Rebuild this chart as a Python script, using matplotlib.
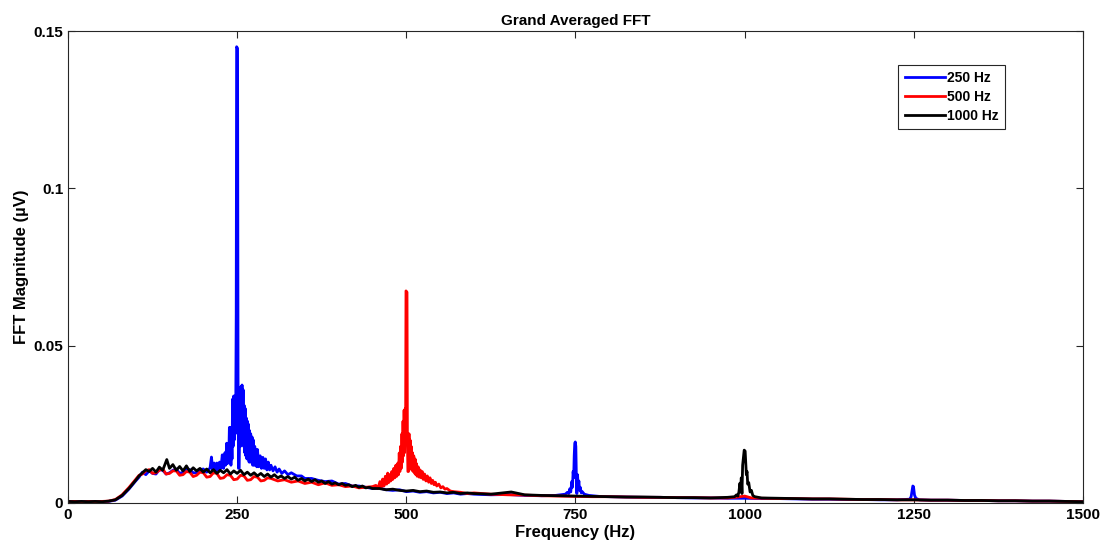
import numpy as np
from matplotlib import pyplot as plt

plt.rcParams["font.family"] = ["Liberation Sans", "DejaVu Sans"]
plt.rcParams["font.weight"] = "bold"

# (frequency Hz, magnitude in 1e-3 uV)
pts_250 = [
    (0, 0.4), (10, 0.5), (20, 0.4), (30, 0.5), (40, 0.4), (50, 0.5), (60, 0.5), (70, 0.9),
    (80, 2.2), (90, 4.4), (100, 7.0), (105, 8.2), (110, 9.8), (115, 9.0), (120, 10.2), (125, 9.4),
    (130, 9.2), (135, 10.6), (140, 10.4), (145, 9.2), (150, 9.6), (155, 10.4), (160, 10.8),
    (165, 9.4), (170, 9.8), (175, 10.8), (180, 10.6), (185, 9.6), (190, 9.6), (195, 10.6),
    (200, 10.8), (205, 9.8), (210, 11.2), (212, 14.6), (214, 10.5), (216, 12.7), (218, 10.0),
    (220, 12.7), (222, 10.5), (224, 13.0), (226, 11.0), (228, 15.3), (230, 11.0), (232, 16.0),
    (233, 12.0), (234.5, 19.0), (235.5, 12.5), (236.5, 18.0), (237.5, 13.0), (238.5, 24.0),
    (239.3, 14.0), (240, 24.0), (240.8, 12.0), (241.6, 22.0), (242.4, 14.0), (243.2, 33.0),
    (244, 18.0), (244.8, 34.0), (245.6, 20.0), (246.4, 34.0), (247.2, 22.0), (248, 34.0),
    (248.6, 60.0), (249.2, 145.0), (250.6, 144.5), (251.3, 40.0), (252, 11.0), (253, 11.0),
    (254, 30.0), (254.8, 18.0), (255.6, 37.0), (256.4, 20.0), (257.2, 37.5), (258, 22.0),
    (258.8, 36.0), (259.6, 18.0), (260.4, 31.0), (261.2, 16.0), (262, 30.0), (262.8, 15.0),
    (263.6, 27.0), (264.4, 14.0), (265.2, 26.0), (266, 14.0), (266.8, 25.0), (267.6, 13.0),
    (268.4, 23.0), (269.2, 13.0), (270, 22.0), (271, 13.0), (272, 21.0), (273, 12.0), (274, 20.0),
    (275, 12.0), (276, 18.0), (277, 12.0), (278, 17.0), (279, 11.5), (280, 17.0), (282, 11.5),
    (284, 15.0), (286, 11.0), (288, 14.5), (290, 11.0), (292, 14.0), (294, 10.5), (296, 13.0),
    (298, 10.5), (300, 12.0), (303, 10.2), (306, 11.5), (309, 9.8), (312, 10.8), (316, 9.4),
    (320, 10.2), (325, 9.0), (330, 9.6), (338, 8.6), (345, 8.6), (350, 7.8), (360, 7.8),
    (370, 7.2), (380, 6.8), (390, 7.0), (400, 6.0), (410, 6.2), (420, 5.4), (430, 5.4),
    (440, 5.0), (450, 4.6), (460, 4.8), (470, 4.2), (480, 4.0), (490, 4.2), (500, 3.6),
    (510, 3.8), (520, 3.4), (530, 3.6), (540, 3.2), (550, 3.4), (560, 3.0), (570, 3.2),
    (580, 2.8), (590, 3.0), (600, 2.8), (625, 2.6), (650, 2.7), (675, 2.4), (700, 2.3),
    (720, 2.4), (735, 2.8), (738, 3.4), (740, 3.0), (741.5, 4.5), (743, 3.5), (744.5, 6.8),
    (745.5, 5.0), (746.5, 10.0), (747.3, 8.0), (748.1, 15.0), (748.9, 19.0), (749.7, 19.4),
    (750.5, 18.0), (751.3, 8.0), (752, 3.0), (753, 9.0), (754, 5.0), (755, 7.0), (756, 4.0),
    (757, 5.0), (758.5, 3.2), (760, 3.6), (763, 2.8), (770, 2.4), (785, 2.1), (800, 2.0),
    (825, 1.9), (850, 1.8), (875, 1.8), (900, 1.7), (925, 1.6), (950, 1.6), (975, 1.5),
    (1000, 1.5), (1025, 1.4), (1050, 1.4), (1075, 1.3), (1100, 1.2), (1125, 1.2), (1150, 1.1),
    (1175, 1.1), (1200, 1.0), (1225, 1.0), (1244, 1.2), (1246, 2.0), (1247.5, 4.0),
    (1248.5, 5.4), (1249.5, 5.2), (1251, 2.5), (1253, 1.5), (1258, 1.0), (1275, 0.9),
    (1300, 0.9), (1325, 0.8), (1350, 0.8), (1375, 0.7), (1400, 0.7), (1425, 0.6), (1450, 0.6),
    (1475, 0.5), (1500, 0.4),
]

pts_500 = [
    (0, 0.4), (10, 0.5), (20, 0.3), (30, 0.5), (40, 0.4), (50, 0.5), (60, 0.6), (70, 1.1),
    (80, 2.6), (90, 4.9), (100, 7.5), (105, 8.8), (110, 9.2), (115, 10.2), (120, 10.6),
    (125, 9.4), (130, 9.6), (135, 10.4), (140, 10.8), (145, 9.2), (150, 9.4), (155, 10.2),
    (160, 10.2), (165, 8.8), (170, 9.0), (175, 10.0), (180, 9.8), (185, 8.4), (190, 8.8),
    (195, 9.8), (200, 9.6), (205, 8.2), (210, 8.4), (215, 9.6), (220, 9.4), (225, 7.8),
    (230, 8.0), (235, 9.0), (240, 8.8), (245, 7.4), (250, 7.6), (255, 8.8), (260, 8.6),
    (265, 7.2), (270, 7.4), (275, 8.4), (280, 8.2), (285, 7.0), (290, 7.2), (295, 8.0),
    (300, 7.8), (310, 7.0), (320, 7.4), (330, 6.6), (340, 7.0), (350, 6.2), (360, 6.6),
    (370, 5.8), (380, 6.4), (390, 5.6), (400, 5.8), (410, 5.2), (420, 5.4), (430, 4.8),
    (440, 5.0), (450, 5.2), (455, 5.6), (458, 4.6), (461, 6.8), (463, 5.0), (465, 7.6),
    (467, 5.4), (469, 8.5), (471, 6.0), (472.5, 9.5), (474, 6.5), (475.5, 9.0), (477, 7.0),
    (478.5, 10.0), (480, 7.5), (481.5, 11.0), (483, 8.0), (484.5, 12.0), (486, 8.5),
    (487.5, 12.7), (488.5, 9.0), (489.5, 15.9), (490.5, 10.0), (491.5, 18.0), (492.5, 11.0),
    (493.5, 22.0), (494.3, 13.0), (495.1, 26.0), (495.9, 15.0), (496.7, 29.5), (497.5, 16.0),
    (498.3, 30.0), (499.0, 30.0), (499.5, 67.4), (501.0, 67.0), (501.6, 20.0), (502.3, 10.0),
    (503.2, 10.0), (504, 22.0), (504.8, 12.0), (505.6, 20.0), (506.4, 11.0), (507.2, 18.0),
    (508, 10.5), (509, 16.0), (510, 10.0), (511, 15.0), (512, 9.5), (513, 14.0), (514, 9.0),
    (515, 12.5), (516, 8.5), (517.5, 11.5), (519, 8.2), (520.5, 10.5), (522, 8.0), (523.5, 10.0),
    (525, 7.5), (527, 9.2), (529, 7.0), (531, 8.6), (533, 6.6), (535, 8.0), (537, 6.2),
    (539, 7.2), (541, 5.8), (543, 6.6), (545, 5.4), (548, 6.0), (551, 4.8), (554, 5.2),
    (557, 4.4), (560, 4.6), (565, 3.8), (570, 3.6), (580, 3.4), (590, 3.0), (600, 3.2),
    (625, 2.8), (650, 2.6), (675, 2.5), (700, 2.3), (725, 2.2), (750, 2.1), (775, 2.0),
    (800, 2.0), (825, 1.9), (850, 1.8), (875, 1.8), (900, 1.7), (925, 1.7), (950, 1.6),
    (975, 1.6), (990, 1.9), (1000, 2.2), (1010, 1.6), (1025, 1.5), (1050, 1.4), (1075, 1.4),
    (1100, 1.3), (1125, 1.3), (1150, 1.2), (1175, 1.1), (1200, 1.1), (1225, 1.0), (1250, 1.0),
    (1275, 0.9), (1300, 0.9), (1325, 0.8), (1350, 0.8), (1375, 0.7), (1400, 0.7), (1425, 0.6),
    (1450, 0.6), (1475, 0.5), (1500, 0.4),
]

pts_1000 = [
    (0, 0.5), (10, 0.4), (20, 0.5), (30, 0.4), (40, 0.5), (50, 0.4), (60, 0.6), (70, 1.0),
    (80, 2.4), (90, 4.6), (100, 7.2), (105, 8.6), (110, 9.6), (115, 10.6), (120, 10.0),
    (125, 11.0), (130, 9.8), (135, 11.4), (140, 10.4), (146, 13.8), (150, 11.0), (155, 12.2),
    (160, 10.4), (165, 11.6), (170, 10.2), (175, 11.8), (180, 10.0), (185, 11.2), (190, 10.2),
    (195, 11.0), (200, 9.8), (205, 10.8), (210, 9.6), (215, 10.6), (220, 9.4), (225, 10.4),
    (230, 9.6), (235, 10.6), (240, 9.2), (245, 10.2), (250, 9.4), (255, 10.4), (260, 9.0),
    (265, 9.8), (270, 8.8), (275, 9.6), (280, 8.6), (285, 9.4), (290, 8.4), (295, 9.2),
    (300, 8.2), (305, 9.0), (310, 8.0), (315, 8.6), (320, 7.8), (325, 8.4), (330, 7.6),
    (335, 8.2), (340, 7.2), (345, 7.8), (350, 7.0), (355, 7.6), (360, 6.8), (365, 7.4),
    (370, 6.6), (375, 7.0), (380, 6.2), (385, 6.8), (390, 6.0), (395, 6.4), (400, 5.8),
    (405, 6.2), (410, 5.6), (415, 5.8), (420, 5.2), (425, 5.6), (430, 5.0), (435, 5.4),
    (440, 4.8), (445, 5.0), (450, 4.6), (460, 4.6), (470, 4.2), (480, 4.4), (490, 4.0),
    (500, 3.8), (510, 4.0), (520, 3.6), (530, 3.8), (540, 3.4), (550, 3.5), (560, 3.2),
    (570, 3.4), (580, 3.0), (590, 3.2), (600, 3.0), (625, 2.8), (655, 3.5), (675, 2.6),
    (700, 2.4), (725, 2.3), (750, 2.2), (775, 2.1), (800, 2.0), (825, 1.9), (850, 1.9),
    (875, 1.8), (900, 1.7), (925, 1.7), (950, 1.6), (975, 1.8), (985, 2.0), (988, 2.6),
    (990, 2.2), (991.5, 3.5), (993, 6.3), (994, 4.0), (995, 8.0), (996, 3.0), (997, 12.0),
    (998.5, 15.0), (999.3, 16.8), (1000.7, 16.5), (1001.5, 13.0), (1002.5, 9.0), (1003.5, 10.0),
    (1004.5, 6.0), (1006, 6.5), (1008, 3.5), (1010, 4.0), (1012, 2.4), (1015, 2.0), (1025, 1.6),
    (1050, 1.5), (1075, 1.4), (1100, 1.3), (1125, 1.3), (1150, 1.2), (1175, 1.1), (1200, 1.1),
    (1225, 1.0), (1250, 1.0), (1275, 0.9), (1300, 0.9), (1325, 0.8), (1350, 0.8), (1375, 0.7),
    (1400, 0.7), (1425, 0.6), (1450, 0.6), (1475, 0.5), (1500, 0.4),
]

series = [
    ("250 Hz", pts_250, "#0000ff"),
    ("500 Hz", pts_500, "#ff0000"),
    ("1000 Hz", pts_1000, "#000000"),
]

fig = plt.figure(figsize=(11.11, 5.59), dpi=100)
ax = fig.add_axes([0.0612, 0.1002, 0.9136, 0.8443])

for label, pts, color in series:
    f, m = zip(*pts)
    ax.plot(f, np.array(m) * 1e-3, color=color, linewidth=2.0, label=label)

ax.set_xlim(0, 1500)
ax.set_ylim(0, 0.15)
ax.set_xticks([0, 250, 500, 750, 1000, 1250, 1500])
ax.set_yticks([0, 0.05, 0.1, 0.15])
ax.set_yticklabels(["0", "0.05", "0.1", "0.15"])
ax.tick_params(direction="in", length=5, width=0.8, colors="#262626", labelsize=11,
               top=True, right=True)
for lab in ax.get_xticklabels() + ax.get_yticklabels():
    lab.set_color("black")
    lab.set_fontweight("bold")
for sp in ax.spines.values():
    sp.set_color("#262626")
    sp.set_linewidth(0.8)

ax.set_xlabel("Frequency (Hz)", fontsize=12, fontweight="bold", labelpad=2)
ax.set_ylabel("FFT Magnitude (\u00b5V)", fontsize=12, fontweight="bold", labelpad=3)
ax.set_title("Grand Averaged FFT", fontsize=11, fontweight="bold", pad=4)

leg = ax.legend(loc="upper right", bbox_to_anchor=(0.923, 0.928), borderaxespad=0,
                fontsize=10, handlelength=2.9, handletextpad=0.15, borderpad=0.45,
                labelspacing=0.35, fancybox=False, framealpha=1, edgecolor="#262626")
leg.get_frame().set_linewidth(0.8)
for t in leg.get_texts():
    t.set_fontweight("bold")

fig.savefig("out.png", dpi=100)
